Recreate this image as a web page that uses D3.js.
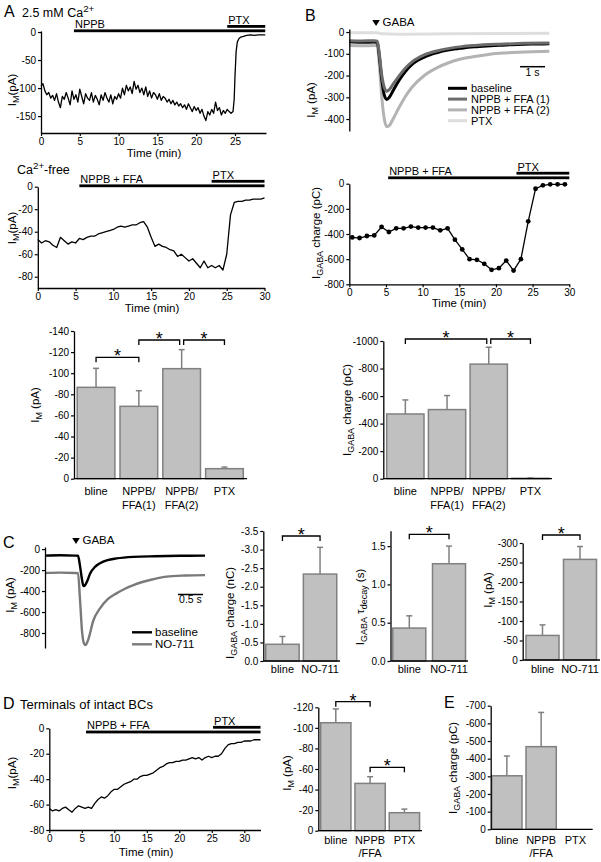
<!DOCTYPE html>
<html>
<head>
<meta charset="utf-8">
<script src="https://cdn.jsdelivr.net/npm/d3@7"></script>
<style>
  body { margin: 0; background: #fff; }
</style>
</head>
<body>
<script>
// ---- data ---------------------------------------------------------------

// A, 2.5 mM Ca2+ : holding current (pA) vs time (min)
const caTrace = [
  [0,-97],[0.25,-92],[0.5,-105],[0.75,-112],[1,-108],[1.25,-118],[1.5,-113],[1.75,-122],
  [2,-110],[2.25,-125],[2.5,-135],[2.75,-115],[3,-120],[3.25,-108],[3.5,-118],[3.75,-130],
  [4,-105],[4.25,-120],[4.5,-112],[4.75,-125],[5,-102],[5.25,-115],[5.5,-128],[5.75,-110],
  [6,-118],[6.25,-122],[6.5,-108],[6.75,-125],[7,-113],[7.25,-120],[7.5,-130],[7.75,-112],
  [8,-122],[8.25,-108],[8.5,-118],[8.75,-125],[9,-112],[9.25,-128],[9.5,-115],[9.75,-120],
  [10,-110],[10.25,-118],[10.5,-100],[10.75,-112],[11,-95],[11.25,-105],[11.5,-98],[11.75,-110],
  [12,-88],[12.25,-102],[12.5,-95],[12.75,-108],[13,-100],[13.25,-112],[13.5,-98],[13.75,-115],
  [14,-105],[14.25,-118],[14.5,-108],[14.75,-112],[15,-120],[15.25,-110],[15.5,-122],[15.75,-115],
  [16,-118],[16.25,-125],[16.5,-120],[16.75,-128],[17,-122],[17.25,-130],[17.5,-125],[17.75,-132],
  [18,-128],[18.25,-135],[18.5,-130],[18.75,-138],[19,-128],[19.25,-135],[19.5,-142],[19.75,-133],
  [20,-140],[20.25,-135],[20.5,-145],[20.75,-138],[21,-150],[21.25,-158],[21.5,-142],[21.75,-148],
  [22,-138],[22.25,-145],[22.5,-125],[22.75,-140],[23,-135],[23.25,-148],[23.5,-140],[23.75,-145],
  [24,-138],[24.25,-142],[24.5,-145],[24.75,-142],[24.9,-120],[25,-80],[25.15,-35],[25.3,-18],
  [25.5,-12],[25.75,-9],[26,-8],[26.5,-6],[27,-5],[27.5,-6],[28,-5],[28.5,-5],[28.9,-5]
];
const caDrugs = [{ name: "PTX", start: 24.0, end: 28.9 }, { name: "NPPB", start: 4.25, end: 28.9 }];

// A, Ca2+-free
const cafreeTrace = [
  [0,-47],[0.5,-50],[1,-48],[1.5,-49],[2,-52],[2.5,-54],[3,-45],[3.5,-48],[4,-51],[4.5,-49],
  [5,-50],[5.5,-46],[6,-47],[6.5,-45],[7,-44],[7.5,-44],[8,-42],[8.5,-41],[9,-40],[9.5,-39],
  [10,-38],[10.5,-36],[11,-35],[11.5,-36],[12,-35],[12.5,-34],[13,-34],[13.5,-32],[14,-31],[14.5,-36],
  [15,-45],[15.5,-53],[16,-51],[16.5,-53],[17,-54],[17.5,-56],[18,-57],[18.5,-62],[19,-60],[19.5,-63],
  [20,-66],[20.5,-64],[21,-68],[21.5,-72],[22,-66],[22.5,-72],[23,-70],[23.5,-72],[24,-70],[24.5,-74],
  [25,-60],[25.5,-25],[26,-14],[26.5,-13],[27,-13],[27.5,-12],[28,-12],[28.5,-11],[29,-11],[29.5,-11],[30,-10]
];
const cafreeDrugs = [{ name: "PTX", start: 23.0, end: 30 }, { name: "NPPB + FFA", start: 5.5, end: 30 }];

// A, summary bars
const aCats = [["bline"], ["NPPB/", "FFA(1)"], ["NPPB/", "FFA(2)"], ["PTX"]];
const aMean = [-86.6, -68.6, -104.3, -9.5];
const aSem  = [18, 14.8, 18, 1.5];
const aSig  = [[0, 1], [1, 2], [2, 3]];

// B, GABA-evoked currents (pA) vs time (s)
const bBaseline = [[0,-45],[0.5,-47],[1.0,-46],[1.12,-48],[1.2,-110],[1.3,-220],[1.4,-290],[1.5,-310],[1.6,-300],
  [1.75,-270],[2.0,-220],[2.25,-180],[2.5,-150],[3.0,-115],[3.5,-95],[4.0,-82],[4.5,-74],[5.0,-68],[5.5,-64],
  [6.0,-61],[6.5,-58],[7.0,-56],[7.5,-55],[8.0,-54]];
const bFFA1 = [[0,-40],[0.5,-41],[1.0,-40],[1.12,-42],[1.2,-100],[1.3,-200],[1.4,-255],[1.5,-272],[1.6,-265],
  [1.75,-240],[2.0,-200],[2.25,-165],[2.5,-138],[3.0,-105],[3.5,-87],[4.0,-75],[4.5,-67],[5.0,-62],[6.0,-56],
  [7.0,-52],[8.0,-50]];
const bFFA2 = [[0,-62],[0.5,-63],[1.0,-62],[1.12,-63],[1.2,-150],[1.3,-300],[1.4,-400],[1.5,-435],[1.6,-430],
  [1.75,-400],[2.0,-345],[2.25,-295],[2.5,-255],[3.0,-200],[3.5,-165],[4.0,-140],[4.5,-123],[5.0,-112],
  [5.5,-104],[6.0,-98],[7.0,-92],[8.0,-88]];
const bPTX = [[0,-3],[1.12,-3],[1.3,-8],[2,-10],[4,-8],[8,-6]];
const bLegend = ["baseline", "NPPB + FFA (1)", "NPPB + FFA (2)", "PTX"];

// B, GABA charge (pC) vs time (min)
const bChargeTime = [0.4,1.4,2.4,3.4,4.4,5.4,6.4,7.4,8.4,9.4,10.4,11.4,12.4,13.4,14.4,
  15.4,16.4,17.4,18.4,19.4,20.4,21.4,22.4,23.4,24.4,25.4,26.4,27.4,28.4,29.4];
const bChargeVal = [-427,-432,-416,-411,-344,-384,-355,-355,-341,-349,-349,-349,-371,-355,-445,
  -523,-600,-605,-637,-685,-672,-611,-691,-600,-299,-40,-13,-5,-5,-5];
const bChargeDrugs = [{ name: "PTX", start: 22.8, end: 30 }, { name: "NPPB + FFA", start: 5.3, end: 30 }];

// B, summary bars
const bCats = [["bline"], ["NPPB/", "FFA(1)"], ["NPPB/", "FFA(2)"], ["PTX"]];
const bMean = [-470, -502, -832, -3];
const bSem  = [102, 102, 123, 3];
const bSig  = [[0, 2], [2, 3]];

// C, GABA currents with NO-711
const cBaseline = [[0,-62],[0.3,-58],[0.6,-62],[0.66,-64],[0.7,-160],[0.74,-290],[0.77,-352],[0.8,-345],
  [0.85,-300],[0.9,-235],[1.0,-170],[1.1,-135],[1.25,-105],[1.43,-89],[1.77,-74],[2.2,-68],[2.7,-64],[3.2,-62]];
const cNO711 = [[0,-228],[0.3,-224],[0.6,-228],[0.66,-230],[0.7,-480],[0.74,-780],[0.78,-900],[0.81,-915],
  [0.86,-870],[0.97,-676],[1.1,-565],[1.25,-480],[1.43,-422],[1.6,-378],[1.77,-343],[2.1,-295],[2.43,-263],
  [2.8,-252],[3.2,-248]];
const cLegend = ["baseline", "NO-711"];
const cCats = [["bline"], ["NO-711"]];
const cChargeMean = [-0.45, -2.34], cChargeSem = [0.21, 0.72];
const cTauMean = [0.43, 1.27], cTauSem = [0.16, 0.23];
const cIMean = [-63, -258], cISem = [27, 33];

// D, terminals of intact BCs
const dTrace = [
  [0,-63],[0.5,-65],[1,-64],[1.5,-65],[2,-63],[2.5,-62],[3,-64],[3.5,-66],[4,-63],[4.5,-61],[5,-62],
  [5.5,-63],[6,-62],[6.5,-63],[7,-59],[7.5,-56],[8,-54],[8.5,-55],[9,-53],[9.5,-50],[10,-48],[10.5,-48],
  [11,-46],[11.5,-44],[12,-43],[12.5,-42],[13,-40],[13.5,-40],[14,-38],[14.5,-37],[15,-37],[15.5,-36],
  [16,-35],[16.5,-33],[17,-31],[17.5,-30],[18,-28],[18.5,-27],[19,-27],[19.5,-26],[20,-26],[20.5,-25],
  [21,-25],[21.5,-24],[22,-23],[22.5,-24],[23,-23],[23.5,-25],[24,-23],[24.5,-22],[25,-23],[25.5,-22],
  [26,-22],[26.5,-20],[27,-16],[27.5,-13],[28,-12],[28.5,-12],[29,-11],[29.5,-11],[30,-10],[30.5,-10],
  [31,-10],[31.5,-9],[32,-9],[32.5,-9]
];
const dDrugs = [{ name: "PTX", start: 25.2, end: 32.5 }, { name: "NPPB + FFA", start: 5.65, end: 32.5 }];
const dCats = [["bline"], ["NPPB", "/FFA"], ["PTX"]];
const dMean = [-105, -46, -17.5], dSem = [13.4, 6.5, 3.5];
const dSig = [[0, 1], [1, 2]];

// E
const eCats = [["bline"], ["NPPB", "/FFA"], ["PTX"]];
const eMean = [-303, -468, 0], eSem = [112, 194, 0];

// tick labels
const timeTicks30 = [0, 5, 10, 15, 20, 25, 30];
const timeTicksA = [0, 5, 10, 15, 20, 25];

// ---- drawing ------------------------------------------------------------

const FONT = "'Liberation Sans', Arial, Helvetica, sans-serif";
const BAR_FILL = "#c0c0c0", BAR_EDGE = "#808080";

const svg = d3.select("body").append("svg")
  .attr("width", 601).attr("height", 862)
  .attr("font-family", FONT);
svg.append("rect").attr("width", 601).attr("height", 862).attr("fill", "#fff");

const num = d => String(d);
const dec1 = d => d.toFixed(1);

function styleAxis(g) {
  g.attr("font-family", FONT).attr("font-size", 10);
  g.select(".domain").attr("stroke", "#000").attr("stroke-width", 1.3);
  g.selectAll(".tick line").attr("stroke", "#000").attr("stroke-width", 1.2);
  g.selectAll(".tick text").attr("fill", "#000");
}

function yAxis(xPos, y, ticks, fmt) {
  const g = svg.append("g").attr("transform", `translate(${xPos},0)`)
    .call(d3.axisLeft(y).tickValues(ticks).tickFormat(fmt || num)
      .tickSize(3).tickSizeOuter(0).tickPadding(2));
  styleAxis(g);
}

function xAxis(yPos, x, ticks) {
  const g = svg.append("g").attr("transform", `translate(0,${yPos})`)
    .call(d3.axisBottom(x).tickValues(ticks).tickFormat(num)
      .tickSize(3).tickSizeOuter(0).tickPadding(2));
  styleAxis(g);
}

// text made of parts: "plain" or [text, "sub" | "sup"]
function rich(sel, parts, size) {
  let off = 0;
  parts.forEach(p => {
    const [t, k] = typeof p === "string" ? [p, ""] : p;
    const target = k === "sub" ? size * 0.3 : k === "sup" ? -size * 0.42 : 0;
    const ts = sel.append("tspan").attr("dy", target - off).text(t);
    if (k) ts.attr("font-size", size * 0.78);
    off = target;
  });
}

function text(x, y, parts, size, anchor) {
  const t = svg.append("text").attr("x", x).attr("y", y)
    .attr("font-size", size).attr("text-anchor", anchor || "start");
  rich(t, typeof parts === "string" ? [parts] : parts, size);
  return t;
}

// vertical axis title, centred on (cx, cy)
function yTitle(cx, cy, parts, size) {
  const t = svg.append("text").attr("font-size", size).attr("text-anchor", "middle")
    .attr("transform", `translate(${cx + size * 0.35},${cy}) rotate(-90)`);
  rich(t, parts, size);
}

function trace(x, y, pts, color, w, curve) {
  svg.append("path").datum(pts)
    .attr("fill", "none").attr("stroke", color).attr("stroke-width", w)
    .attr("stroke-linejoin", "round")
    .attr("d", d3.line().x(d => x(d[0])).y(d => y(d[1])).curve(curve || d3.curveLinear));
}

function drugBars(x, items, ys) {
  items.forEach((d, i) => {
    svg.append("rect").attr("x", x(d.start)).attr("y", ys[i] - 1.4)
      .attr("width", x(d.end) - x(d.start)).attr("height", 2.8).attr("fill", "#000");
    text(x(d.start) + 1, ys[i] - 2.6, d.name, 11);
  });
}

function gabaMark(x, y) {
  svg.append("path").attr("d", `M${x - 3.8},${y - 6}L${x + 3.8},${y - 6}L${x},${y}Z`).attr("fill", "#000");
  text(x + 6.5, y, "GABA", 11.5);
}

function barChart(o) {
  const xb = d3.scaleBand().domain(d3.range(o.cats.length))
    .range(o.band).paddingInner(o.pi).paddingOuter(o.po);
  const y = d3.scaleLinear().domain(o.yDomain).range(o.yRange);
  const cx = i => xb(i) + xb.bandwidth() / 2;

  o.mean.forEach((m, i) => {
    const y0 = y(0), y1 = y(m);
    if (m !== 0) {
      svg.append("rect").attr("x", xb(i)).attr("width", xb.bandwidth())
        .attr("y", Math.min(y0, y1)).attr("height", Math.abs(y1 - y0))
        .attr("fill", BAR_FILL).attr("stroke", BAR_EDGE).attr("stroke-width", 1.5);
    }
    if (o.sem[i] > 0) {
      const ye = y(m + Math.sign(m) * o.sem[i]);
      svg.append("line").attr("x1", cx(i)).attr("x2", cx(i)).attr("y1", y1).attr("y2", ye)
        .attr("stroke", BAR_EDGE).attr("stroke-width", 1.5);
      svg.append("line").attr("x1", cx(i) - 3).attr("x2", cx(i) + 3).attr("y1", ye).attr("y2", ye)
        .attr("stroke", BAR_EDGE).attr("stroke-width", 1.5);
    }
  });

  svg.append("line").attr("x1", o.axisX).attr("x2", o.axisEnd).attr("y1", y(0)).attr("y2", y(0))
    .attr("stroke", "#000").attr("stroke-width", 1.3);
  yAxis(o.axisX, y, o.ticks, o.fmt);

  o.cats.forEach((lines, i) => {
    lines.forEach((s, k) => text(cx(i), o.catY[k], s, 11, "middle"));
  });

  (o.sig || []).forEach(([i, j], n) => {
    const lev = o.sigY[n], a = o.sigInset[n][0], b = o.sigInset[n][1];
    const x1 = cx(i) + a, x2 = cx(j) - b;
    svg.append("path").attr("d", `M${x1},${lev + 5}V${lev}H${x2}V${lev + 5}`)
      .attr("fill", "none").attr("stroke", "#000").attr("stroke-width", 1.3);
    text((x1 + x2) / 2, lev + 5, "*", 18, "middle");
  });

  yTitle(o.titleX, o.titleY, o.title, 11.5);
}

// ---------- panel A : 2.5 mM Ca ----------
text(4, 17, "A", 16);
text(22, 17, ["2.5 mM Ca", ["2+", "sup"]], 12.5);
{
  const x = d3.scaleLinear().domain([0, 29]).range([41, 266]);
  const y = d3.scaleLinear().domain([2, -180]).range([30.9, 132.9]);
  trace(x, y, caTrace, "#000", 1.3);
  yAxis(41, y, [0, -50, -100, -150]);
  xAxis(133, x, timeTicksA);
  drugBars(x, caDrugs, [26.4, 30.8]);
  text(154, 157, "Time (min)", 11.5, "middle");
  yTitle(12, 90, ["I", ["M", "sub"], "(pA)"], 11.5);
}

// ---------- panel A : Ca-free ----------
text(17, 174, ["Ca", ["2+", "sup"], "-free"], 12.5);
{
  const x = d3.scaleLinear().domain([0, 30]).range([37.8, 264.5]);
  const y = d3.scaleLinear().domain([0, -90]).range([186.7, 288]);
  trace(x, y, cafreeTrace, "#000", 1.3);
  yAxis(37.8, y, [0, -20, -40, -60, -80]);
  xAxis(288, x, timeTicks30);
  drugBars(x, cafreeDrugs, [181.3, 185.8]);
  text(152, 311.5, "Time (min)", 11.5, "middle");
  yTitle(12, 228, ["I", ["M", "sub"], "(pA)"], 11.5);
}

// ---------- panel A : bars ----------
barChart({
  cats: aCats, mean: aMean, sem: aSem,
  band: [75.5, 245], pi: 0.12, po: 0.04,
  yDomain: [0, -140], yRange: [478.7, 331],
  axisX: 74, axisEnd: 247,
  ticks: [0, -20, -40, -60, -80, -100, -120, -140],
  catY: [494.5, 508.5],
  sig: aSig, sigY: [357.3, 340, 340], sigInset: [[0, 0], [0, 2], [2, 0]],
  title: ["I", ["M", "sub"], " (pA)"], titleX: 35, titleY: 405
});

// ---------- panel B : current traces ----------
text(305, 21, "B", 16);
{
  const x = d3.scaleLinear().domain([0, 8]).range([349.3, 549.3]);
  const y = d3.scaleLinear().domain([14, -455]).range([29, 131]);
  const cols = ["#000", "#6b6b6b", "#b3b3b3", "#dedede"];
  trace(x, y, bPTX, cols[3], 3, d3.curveMonotoneX);
  trace(x, y, bFFA2, cols[2], 3, d3.curveMonotoneX);
  trace(x, y, bBaseline, cols[0], 3, d3.curveMonotoneX);
  trace(x, y, bFFA1, cols[1], 3, d3.curveMonotoneX);
  yAxis(349.3, y, [0, -100, -200, -300, -400]);
  gabaMark(x(1.07), 26);
  // scale bar: 1 s
  svg.append("line").attr("x1", x(6.83)).attr("x2", x(7.83)).attr("y1", 66.7).attr("y2", 66.7)
    .attr("stroke", "#000").attr("stroke-width", 1.5);
  text((x(6.83) + x(7.83)) / 2, 76, "1 s", 10.5, "middle");
  bLegend.forEach((s, i) => {
    const yy = 88.3 + i * 10.8;
    svg.append("line").attr("x1", 448).attr("x2", 467).attr("y1", yy).attr("y2", yy)
      .attr("stroke", cols[i]).attr("stroke-width", 3);
    text(471, yy + 4, s, 11);
  });
  yTitle(311, 100, ["I", ["M", "sub"], " (pA)"], 11.5);
}

// ---------- panel B : charge vs time ----------
{
  const x = d3.scaleLinear().domain([0, 30]).range([349.3, 569.3]);
  const y = d3.scaleLinear().domain([0, -800]).range([183.7, 284.3]);
  const pts = bChargeTime.map((t, i) => [t, bChargeVal[i]]);
  trace(x, y, pts, "#000", 1.3);
  svg.append("g").selectAll("circle").data(pts).join("circle")
    .attr("cx", d => x(d[0])).attr("cy", d => y(d[1])).attr("r", 2.4).attr("fill", "#000");
  yAxis(349.3, y, [0, -200, -400, -600, -800]);
  xAxis(284.3, x, timeTicks30);
  drugBars(x, bChargeDrugs, [173.2, 177.8]);
  text(459, 307, "Time (min)", 11.5, "middle");
  yTitle(316, 233, ["I", ["GABA", "sub"], " charge (pC)"], 11.5);
}

// ---------- panel B : bars ----------
barChart({
  cats: bCats, mean: bMean, sem: bSem,
  band: [384.6, 551.2], pi: 0.105, po: 0.05,
  yDomain: [0, -1000], yRange: [478.7, 341],
  axisX: 383.3, axisEnd: 552,
  ticks: [0, -200, -400, -600, -800, -1000],
  catY: [494.5, 508.5],
  sig: bSig, sigY: [339, 339], sigInset: [[0, 2], [2, 0]],
  title: ["I", ["GABA", "sub"], " charge (pC)"], titleX: 347, titleY: 410
});

// ---------- panel C : traces ----------
text(3, 548, "C", 16);
{
  const x = d3.scaleLinear().domain([0, 3.2]).range([45, 205]);
  const y = d3.scaleLinear().domain([20, -943]).range([547, 648]);
  trace(x, y, cNO711, "#7a7a7a", 2.4, d3.curveMonotoneX);
  trace(x, y, cBaseline, "#000", 2.4, d3.curveMonotoneX);
  yAxis(45, y, [0, -200, -400, -600, -800]);
  gabaMark(x(0.62), 544);
  svg.append("line").attr("x1", x(2.66)).attr("x2", x(3.16)).attr("y1", 594.5).attr("y2", 594.5)
    .attr("stroke", "#000").attr("stroke-width", 1.5);
  text((x(2.66) + x(3.16)) / 2, 603, "0.5 s", 10.5, "middle");
  const cols = ["#000", "#7a7a7a"];
  cLegend.forEach((s, i) => {
    const yy = 632.3 + i * 12;
    svg.append("line").attr("x1", 132).attr("x2", 152).attr("y1", yy).attr("y2", yy)
      .attr("stroke", cols[i]).attr("stroke-width", 2.4);
    text(155, yy + 4, s, 11.5);
  });
  yTitle(10, 595, ["I", ["M", "sub"], " (pA)"], 11.5);
}

// ---------- panel C : bars ----------
barChart({
  cats: cCats, mean: cChargeMean, sem: cChargeSem,
  band: [263.5, 339], pi: 0.112, po: 0.06,
  yDomain: [0, -3.5], yRange: [661, 531],
  axisX: 263.3, axisEnd: 340,
  ticks: [0, -0.5, -1, -1.5, -2, -2.5, -3, -3.5], fmt: dec1,
  catY: [673],
  sig: [[0, 1]], sigY: [536], sigInset: [[0, 0]],
  title: ["I", ["GABA", "sub"], " charge (nC)"], titleX: 230, titleY: 613
});
barChart({
  cats: cCats, mean: cTauMean, sem: cTauSem,
  band: [390.8, 467.5], pi: 0.169, po: 0.05,
  yDomain: [0, 1.7], yRange: [661, 530.8],
  axisX: 390.5, axisEnd: 468,
  ticks: [0, 0.5, 1, 1.5], fmt: dec1,
  catY: [673],
  sig: [[0, 1]], sigY: [534.3], sigInset: [[0, 0]],
  title: ["I", ["GABA", "sub"], " τ", ["decay", "sub"], " (s)"], titleX: 360, titleY: 607
});
barChart({
  cats: cCats, mean: cIMean, sem: cISem,
  band: [523, 599.5], pi: 0.12, po: 0.08,
  yDomain: [0, -300], yRange: [660, 543],
  axisX: 522.7, axisEnd: 600,
  ticks: [0, -50, -100, -150, -200, -250, -300],
  catY: [673],
  sig: [[0, 1]], sigY: [535], sigInset: [[0, 0]],
  title: ["I", ["M", "sub"], " (pA)"], titleX: 488, titleY: 590
});

// ---------- panel D : trace ----------
text(3, 709.3, "D", 16);
text(20, 709.3, "Terminals of intact BCs", 13);
{
  const x = d3.scaleLinear().domain([0, 32.5]).range([49.3, 260.5]);
  const y = d3.scaleLinear().domain([0, -80]).range([728.3, 830]);
  trace(x, y, dTrace, "#000", 1.3);
  yAxis(49.3, y, [0, -20, -40, -60, -80]);
  xAxis(830, x, timeTicks30);
  drugBars(x, dDrugs, [727.3, 732]);
  text(146, 856, "Time (min)", 11.5, "middle");
  yTitle(12, 773, ["I", ["M", "sub"], "(pA)"], 11.5);
}

// ---------- panel D : bars ----------
barChart({
  cats: dCats, mean: dMean, sem: dSem,
  band: [318.6, 421.6], pi: 0.117, po: 0.06,
  yDomain: [0, -120], yRange: [830.7, 707.3],
  axisX: 318.3, axisEnd: 422,
  ticks: [0, -20, -40, -60, -80, -100, -120],
  catY: [844, 856.5],
  sig: dSig, sigY: [701.7, 767.3], sigInset: [[0, 0], [0, 0]],
  title: ["I", ["M", "sub"], " (pA)"], titleX: 287, titleY: 773
});

// ---------- panel E ----------
text(444, 708, "E", 16);
barChart({
  cats: eCats, mean: eMean, sem: eSem,
  band: [490.7, 591.6], pi: 0.117, po: 0.03,
  yDomain: [0, -700], yRange: [829.3, 705.7],
  axisX: 490.7, axisEnd: 592.7,
  ticks: [0, -100, -200, -300, -400, -500, -600, -700],
  catY: [844, 856.5],
  title: ["I", ["GABA", "sub"], " charge (pC)"], titleX: 453, titleY: 768
});
</script>
</body>
</html>
